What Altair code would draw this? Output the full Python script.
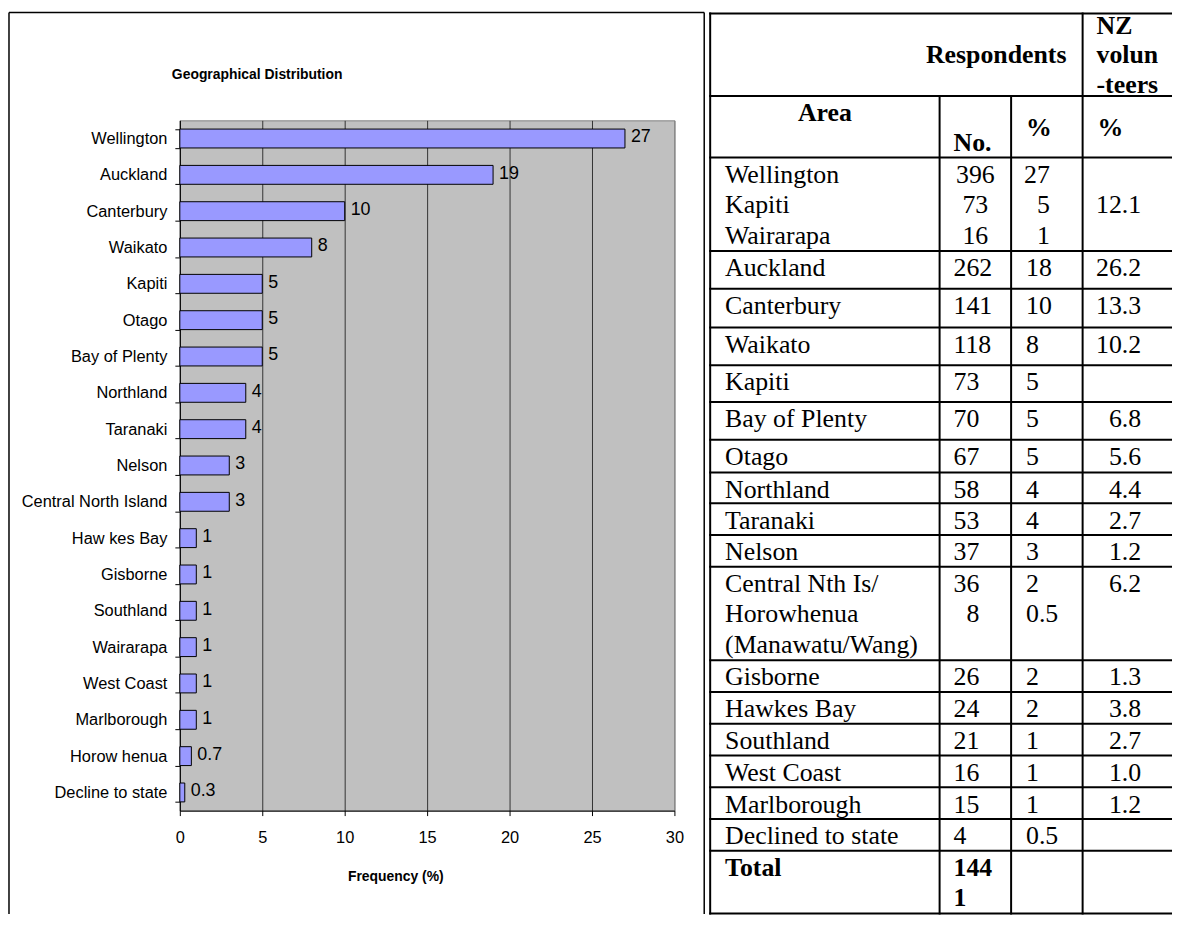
import altair as alt
import pandas as pd

SANS = "Liberation Sans, Arial, sans-serif"
SERIF = "Liberation Serif, Times New Roman, serif"

# ---------------- bar chart data ----------------
chart_areas = ["Wellington", "Auckland", "Canterbury", "Waikato", "Kapiti", "Otago",
               "Bay of Plenty", "Northland", "Taranaki", "Nelson", "Central North Island",
               "Haw kes Bay", "Gisborne", "Southland", "Wairarapa", "West Coast",
               "Marlborough", "Horow henua", "Decline to state"]
chart_freq = [27, 19, 10, 8, 5, 5, 5, 4, 4, 3, 3, 1, 1, 1, 1, 1, 1, 0.7, 0.3]
chart_labels = ["27", "19", "10", "8", "5", "5", "5", "4", "4", "3", "3",
                "1", "1", "1", "1", "1", "1", "0.7", "0.3"]
x_tick_values = [0, 5, 10, 15, 20, 25, 30]
chart_title = "Geographical Distribution"
x_axis_title = "Frequency (%)"

# ---------------- table data ----------------
hdr_group = "Respondents"
hdr_nz = ["NZ", "volun", "-teers"]
hdr_area = "Area"
hdr_no = "No."
hdr_pct = "%"
tbl_area = [["Wellington", "Kapiti", "Wairarapa"], ["Auckland"], ["Canterbury"], ["Waikato"],
            ["Kapiti"], ["Bay of Plenty"], ["Otago"], ["Northland"], ["Taranaki"], ["Nelson"],
            ["Central Nth Is/", "Horowhenua", "(Manawatu/Wang)"], ["Gisborne"], ["Hawkes Bay"],
            ["Southland"], ["West Coast"], ["Marlborough"], ["Declined to state"], ["Total"]]
tbl_no = [["396", "73", "16"], ["262"], ["141"], ["118"], ["73"], ["70"], ["67"], ["58"],
          ["53"], ["37"], ["36", "8"], ["26"], ["24"], ["21"], ["16"], ["15"], ["4"],
          ["144", "1"]]
tbl_pct = [["27", "5", "1"], ["18"], ["10"], ["8"], ["5"], ["5"], ["5"], ["4"], ["4"], ["3"],
           ["2", "0.5"], ["2"], ["2"], ["1"], ["1"], ["1"], ["0.5"], []]
tbl_nz = [["", "12.1", ""], ["26.2"], ["13.3"], ["10.2"], [], ["6.8"], ["5.6"], ["4.4"],
          ["2.7"], ["1.2"], ["6.2"], ["1.3"], ["3.8"], ["2.7"], ["1.0"], ["1.2"], [], []]

# ---------------- layout ----------------
PW, PH = 498, 695
TX0, TY0 = 534, -107.5          # table origin relative to the bar plot area
TW = 464
ROW_H = [83, 62, 94, 38, 39, 38, 37, 38, 33, 31, 32, 32, 94, 32, 32, 32, 32, 32, 32, 63]
COL_X = [0, 231, 303, 375]
LS = 30.5
LS_HDR = 29.5

# ================= bar chart =================
bar_df = pd.DataFrame({"area": chart_areas, "freq": chart_freq, "label": chart_labels})
one = pd.DataFrame({"k": [0]})

x_scale = alt.Scale(domain=[0, 30], nice=False, zero=True)
y_scale = alt.Scale(paddingInner=0.48, paddingOuter=0.24)

x_axis = alt.Axis(values=x_tick_values, format="d", title=x_axis_title,
                  titleFont=SANS, titleFontSize=14, titleFontWeight="bold", titleColor="black",
                  titleX=217, titleY=70, titleBaseline="alphabetic", titleAlign="center",
                  labelFont=SANS, labelFontSize=16.5, labelColor="black", labelPadding=14,
                  labelFlush=False, tickSize=5, tickColor="black", domainColor="black",
                  grid=True, gridWidth=1,
                  gridColor={"condition": {"test": "datum.value >= 30", "value": "#808080"},
                             "value": "#333333"})
y_axis = alt.Axis(title=None, tickBand="extent", tickSize=5, tickColor="black",
                  domainColor="black", labelFont=SANS, labelFontSize=16.5, labelColor="black",
                  labelPadding=8, grid=False)

x_enc = alt.X("freq:Q", scale=x_scale, axis=x_axis)
y_enc = alt.Y("area:N", sort=chart_areas, scale=y_scale, axis=y_axis)

bars = alt.Chart(bar_df).mark_bar(fill="#9999FF", stroke="black", strokeWidth=1).encode(
    x=x_enc, y=y_enc)
vals = alt.Chart(bar_df).mark_text(align="left", baseline="middle", dx=6, dy=-1, font=SANS,
                                   fontSize=18, color="black").encode(
    x=x_enc, y=y_enc, text="label:N")

FL, FT, FR, FB = -172, -108.5, 528, 799
frame_left = alt.Chart(one).mark_rule(color="black", strokeWidth=1.5).encode(
    x=alt.value(FL), y=alt.value(FT), y2=alt.value(FB))
frame_top = alt.Chart(one).mark_rule(color="black", strokeWidth=1.5).encode(
    x=alt.value(FL), x2=alt.value(FR), y=alt.value(FT))
frame_right = alt.Chart(one).mark_rule(color="black", strokeWidth=1.5).encode(
    x=alt.value(FR), y=alt.value(FT), y2=alt.value(FB))
title_mark = alt.Chart(one).mark_text(text=chart_title, align="left", baseline="alphabetic",
                                      font=SANS, fontSize=14, fontWeight="bold",
                                      color="black").encode(
    x=alt.value(-8), y=alt.value(-42))

bar_group = alt.layer(bars, vals, frame_left, frame_top, frame_right, title_mark)

# ================= table =================
tops = [0]
for h in ROW_H:
    tops.append(tops[-1] + h)
TOTAL_H = tops[-1]

cells = []


def add(x, y, text, kind):
    if text:
        cells.append({"tx": x, "ty": y, "text": text, "kind": kind})


add(288, tops[0] + 20.5 + LS_HDR, hdr_group, "CB")
for k, t in enumerate(hdr_nz):
    add(389, tops[0] + 20.5 + LS_HDR * k, t, "LB")
add(115.5, tops[1] + 25, hdr_area, "CB")
add(245, tops[1] + 25 + LS, hdr_no, "LB")
add(318, tops[1] + 25 + LS / 2, hdr_pct, "LB")
add(390, tops[1] + 25 + LS / 2, hdr_pct, "LB")

NO_ANCHOR = {0: (267, "C"), 10: (271, "R")}
PCT_ANCHOR = {0: (342, "R")}
last = len(tbl_area) - 1
for i in range(len(tbl_area)):
    top = tops[i + 2]
    base = top + 25.5
    bold = "B" if i == last else ""
    for k, t in enumerate(tbl_area[i]):
        add(15, base + LS * k, t, "L" + bold)
    nx, nk = NO_ANCHOR.get(i, (245, "L"))
    for k, t in enumerate(tbl_no[i]):
        add(nx, base + LS * k, t, nk + bold)
    px, pk = PCT_ANCHOR.get(i, (318, "L"))
    for k, t in enumerate(tbl_pct[i]):
        add(px, base + LS * k, t, pk + bold)
    for k, t in enumerate(tbl_nz[i]):
        add(434, base + LS * k, t, "R" + bold)

cells_df = pd.DataFrame(cells)

tx_scale = alt.Scale(domain=[0, TW], range=[TX0, TX0 + TW], nice=False, zero=False)
ty_scale = alt.Scale(domain=[0, TOTAL_H], range=[TY0, TY0 + TOTAL_H], nice=False, zero=False)

hl_df = pd.DataFrame({"y": tops, "x0": [0] * len(tops), "x1": [TW] * len(tops)})
vl_df = pd.DataFrame({"x": COL_X, "y0": [0, tops[1], tops[1], 0],
                      "y1": [TOTAL_H] * len(COL_X)})

hlines = alt.Chart(hl_df).mark_rule(color="black", strokeWidth=2, strokeCap="square").encode(
    x=alt.X("x0:Q", scale=tx_scale, axis=None), x2="x1:Q",
    y=alt.Y("y:Q", scale=ty_scale, axis=None))
vlines = alt.Chart(vl_df).mark_rule(color="black", strokeWidth=2, strokeCap="square").encode(
    x=alt.X("x:Q", scale=tx_scale, axis=None),
    y=alt.Y("y0:Q", scale=ty_scale, axis=None), y2="y1:Q")

KINDS = {"L": ("left", "normal"), "LB": ("left", "bold"), "C": ("center", "normal"),
         "CB": ("center", "bold"), "R": ("right", "normal"), "RB": ("right", "bold")}
text_layers = []
for kind in sorted(set(cells_df["kind"])):
    align, weight = KINDS[kind]
    text_layers.append(
        alt.Chart(cells_df).transform_filter(alt.datum.kind == kind).mark_text(
            align=align, baseline="alphabetic", font=SERIF, fontSize=26, fontWeight=weight,
            color="black").encode(
            x=alt.X("tx:Q", scale=tx_scale, axis=None),
            y=alt.Y("ty:Q", scale=ty_scale, axis=None),
            text="text:N"))

table_group = alt.layer(hlines, vlines, *text_layers)

chart = alt.layer(bar_group, table_group).resolve_scale(
    x="independent", y="independent").properties(
    width=PW, height=PH, padding=0).configure_view(
    fill="#C0C0C0", stroke="#808080", strokeWidth=1)

chart.save("out.html", embed_options={"renderer": "svg", "actions": False})
